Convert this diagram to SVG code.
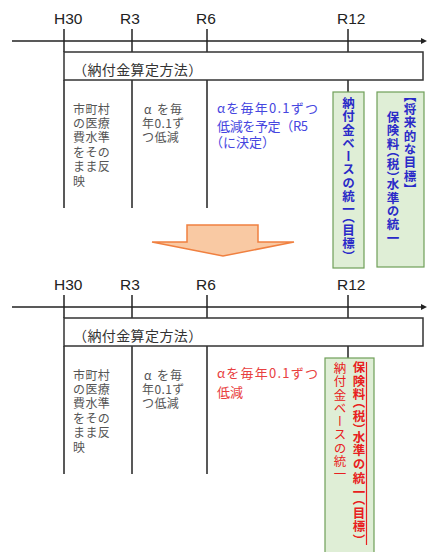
<svg xmlns="http://www.w3.org/2000/svg" width="427" height="552" viewBox="0 0 427 552">
<style>
.lbl{font-family:"Liberation Sans",Arial,sans-serif;font-size:15.5px;fill:#222}
.jp{font-family:"Noto Sans CJK JP","Noto Sans",sans-serif}
.hdr{font-size:14px;fill:#333;letter-spacing:0.4px}
.col{font-size:12px;fill:#555;letter-spacing:0.4px}
.blue{font-size:13px;fill:#4646e0}
.red{font-size:13px;fill:#e84040}
.vt{writing-mode:vertical-rl;font-size:12.5px;letter-spacing:0.8px}
.hp{font-feature-settings:"vhal" 1}
.vblue{fill:#2a2ac8;font-weight:bold}
.vred{fill:#e82020}
.line{stroke:#222;stroke-width:1.5;fill:none}
.box{fill:#fff;stroke:#333;stroke-width:1.5}
.gbox{fill:#dfeed6;stroke:#6f9f58;stroke-width:1.2}
</style>

<!-- ===== TOP ===== -->
<g id="top-axis">
  <line class="line" x1="12" y1="41" x2="423" y2="41"/>
  <polygon points="421,38 427,41 421,44" fill="#222"/>
  <line class="line" x1="64" y1="29" x2="64" y2="52"/>
  <line class="line" x1="132" y1="29" x2="132" y2="52"/>
  <line class="line" x1="207" y1="29" x2="207" y2="52"/>
  <line class="line" x1="348" y1="29" x2="348" y2="52"/>
  <text class="lbl" x="54" y="24">H30</text>
  <text class="lbl" x="120" y="24">R3</text>
  <text class="lbl" x="196" y="24">R6</text>
  <text class="lbl" x="337" y="24">R12</text>
</g>

<g id="top-connectors">
  <line class="line" x1="64" y1="80" x2="64" y2="208"/>
  <line class="line" x1="132" y1="80" x2="132" y2="208"/>
  <line class="line" x1="207" y1="80" x2="207" y2="208"/>
  <line class="line" x1="348" y1="80" x2="348" y2="92"/>
</g>

<g id="top-method">
  <rect class="box" x="64" y="52" width="359" height="28"/>
  <text class="jp hdr" x="73" y="75">（納付金算定方法）</text>
</g>

<g id="top-col1">
  <text class="jp col" x="73" y="114">市町村</text>
  <text class="jp col" x="73" y="128">の医療</text>
  <text class="jp col" x="73" y="142">費水準</text>
  <text class="jp col" x="73" y="156.5">をその</text>
  <text class="jp col" x="73" y="171">まま反</text>
  <text class="jp col" x="73" y="185.5">映</text>
</g>

<g id="top-col2">
  <text class="jp col" x="144 157 170" y="114">αを毎</text>
  <text class="jp col" x="142" y="128">年0.1ず</text>
  <text class="jp col" x="142" y="142">つ低減</text>
</g>

<g id="top-col3">
  <text class="jp blue" x="217" y="113" textLength="101" lengthAdjust="spacing">αを毎年0.1ずつ</text>
  <text class="jp blue" x="217" y="131" textLength="91" lengthAdjust="spacing">低減を予定（R5</text>
  <text class="jp blue" x="210" y="147">（に決定）</text>
</g>

<g id="top-goal1">
  <rect class="gbox" x="333" y="92" width="31" height="176"/>
  <text class="jp vt vblue" x="348.5" y="97">納付金ベースの統一<tspan class="hp">（</tspan>目標<tspan class="hp">）</tspan></text>
</g>

<g id="top-goal2">
  <rect class="gbox" x="377" y="92" width="47" height="175"/>
  <text class="jp vt vblue" x="410" y="96"><tspan class="hp">【</tspan>将来的な目標<tspan class="hp">】</tspan></text>
  <text class="jp vt vblue" x="393" y="111">保険料<tspan class="hp">（</tspan>税<tspan class="hp">）</tspan>水準の統一</text>
</g>

<g id="arrow">
  <polygon points="187,225 258,225 258,242 294,242 223,256 152,242 187,242" fill="#f9c9a3" stroke="#f08040" stroke-width="1.5" stroke-linejoin="miter"/>
</g>

<!-- ===== BOTTOM ===== -->
<g id="bottom-axis">
  <line class="line" x1="12" y1="307" x2="423" y2="307"/>
  <polygon points="421,304 427,307 421,310" fill="#222"/>
  <line class="line" x1="64" y1="295" x2="64" y2="318"/>
  <line class="line" x1="132" y1="295" x2="132" y2="318"/>
  <line class="line" x1="207" y1="295" x2="207" y2="318"/>
  <line class="line" x1="348" y1="295" x2="348" y2="318"/>
  <text class="lbl" x="54" y="290">H30</text>
  <text class="lbl" x="120" y="290">R3</text>
  <text class="lbl" x="196" y="290">R6</text>
  <text class="lbl" x="337" y="290">R12</text>
</g>

<g id="bottom-connectors">
  <line class="line" x1="64" y1="346" x2="64" y2="474"/>
  <line class="line" x1="132" y1="346" x2="132" y2="474"/>
  <line class="line" x1="207" y1="346" x2="207" y2="474"/>
  <line class="line" x1="348" y1="346" x2="348" y2="358"/>
</g>

<g id="bottom-method">
  <rect class="box" x="64" y="318" width="359" height="28"/>
  <text class="jp hdr" x="73" y="341">（納付金算定方法）</text>
</g>

<g id="bottom-col1">
  <text class="jp col" x="73" y="380">市町村</text>
  <text class="jp col" x="73" y="394">の医療</text>
  <text class="jp col" x="73" y="408">費水準</text>
  <text class="jp col" x="73" y="422.5">をその</text>
  <text class="jp col" x="73" y="437">まま反</text>
  <text class="jp col" x="73" y="451.5">映</text>
</g>

<g id="bottom-col2">
  <text class="jp col" x="144 157 170" y="380">αを毎</text>
  <text class="jp col" x="142" y="394">年0.1ず</text>
  <text class="jp col" x="142" y="408">つ低減</text>
</g>

<g id="bottom-col3">
  <text class="jp red" x="217" y="378" textLength="101" lengthAdjust="spacing">αを毎年0.1ずつ</text>
  <text class="jp red" x="217" y="397">低減</text>
</g>

<g id="bottom-goal">
  <rect class="gbox" x="325" y="358" width="49" height="196"/>
  <text class="jp vt vred" x="340" y="362">納付金ベースの統一</text>
  <text class="jp vt vred" x="359" y="361" style="font-weight:bold;letter-spacing:1.2px">保険料<tspan class="hp">（</tspan>税<tspan class="hp">）</tspan>水準の統一<tspan class="hp">（</tspan>目標<tspan class="hp">）</tspan></text>
  <line x1="366.5" y1="362" x2="366.5" y2="545" stroke="#e82020" stroke-width="1.2"/>
</g>
</svg>
